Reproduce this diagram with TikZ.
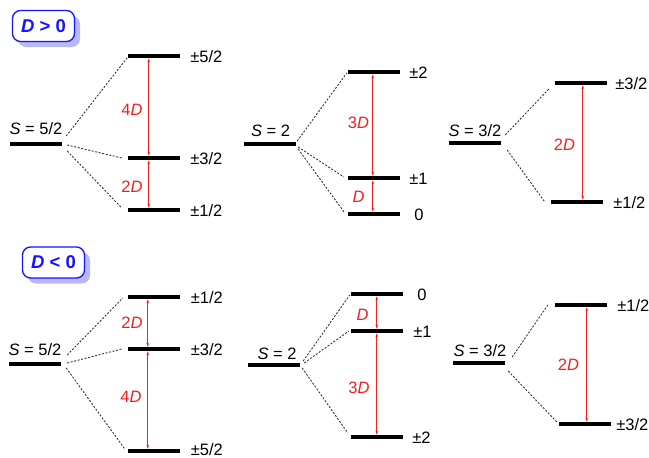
\documentclass[tikz,border=0pt]{standalone}
\usepackage{fontspec}
\setmainfont{Liberation Sans}
\usetikzlibrary{arrows.meta,calc,shadows}
\definecolor{shadowblue}{RGB}{184,184,242}
\definecolor{boxblue}{RGB}{20,20,255}
\definecolor{arrred}{RGB}{245,30,30}
\begin{document}
\begin{tikzpicture}[x=1pt,y=-1pt,
 bar/.style={fill=black, inner sep=0pt, minimum width=52pt, minimum height=3.3pt},
 lbl/.style={font=\fontsize{16.5}{19}\selectfont, inner sep=0pt, anchor=base west},
 slbl/.style={font=\fontsize{16.5}{19}\selectfont, inner sep=0pt, anchor=base},
 dlbl/.style={font=\fontsize{16.5}{19}\selectfont, inner sep=0pt, text=arrred},
 dl/.style={dash pattern=on 2pt off 1.6pt, line width=0.9pt, draw=black!80},
 darr/.style={draw=arrred, line width=0.75pt, {Stealth[length=4pt,width=2.8pt,fill=arrred]}-{Stealth[length=4pt,width=2.8pt,fill=arrred]}, shorten <=0.5pt, shorten >=0.5pt},
 dbox/.style={draw=boxblue, line width=1.3pt, fill=white, rounded corners=8pt, minimum width=62pt, minimum height=31pt, inner sep=0pt, font=\fontsize{18.5}{22}\selectfont\bfseries, text=boxblue, general shadow={fill=shadowblue, shadow xshift=5.5pt, shadow yshift=-5.5pt}}
]
\useasboundingbox (0,0) rectangle (649,458);

% ---------- sign boxes ----------
\node[dbox] (kpos) at (43.5,26) {\textit{D} > 0};
\node[dbox] (kneg) at (53.5,262.5) {\textit{D} < 0};

% ================= D > 0 =================
% Panel 1: S = 5/2
\node[bar] (s1) at (36,144) {};
\node[slbl] (s1l) at (36,134.5) {\textit{S} = 5/2};
\node[bar] (a1) at (154,56) {};
\node[bar] (b1) at (154,158) {};
\node[bar] (c1) at (154,210) {};
\node[lbl] (a1l) at ($(a1.east)+(10,6)$) {±5/2};
\node[lbl] (b1l) at ($(b1.east)+(10,6)$) {±3/2};
\node[lbl] (c1l) at ($(c1.east)+(10,6)$) {±1/2};
\draw[dl] ($(s1.east)+(4,-8)$) -- ($(a1.west)+(0,1)$);
\draw[dl] ($(s1.east)+(5,1)$) -- ($(b1.west)+(-6,0)$);
\draw[dl] ($(s1.east)+(5,7)$) -- ($(c1.west)+(-6,-2)$);
\draw[darr] ([xshift=21pt]a1.south west) -- ([xshift=21pt]b1.north west);
\draw[darr] ([xshift=21pt]b1.south west) -- ([xshift=21pt]c1.north west);
\node[dlbl] (d1a) at (132,110) {4\textit{D}};
\node[dlbl] (d1b) at (132,187) {2\textit{D}};

% Panel 2: S = 2
\node[bar] (s2) at (270,144) {};
\node[slbl] (s2l) at (270.5,136.7) {\textit{S} = 2};
\node[bar] (a2) at (374,72) {};
\node[bar] (b2) at (374,178) {};
\node[bar] (c2) at (374,214) {};
\node[lbl] (a2l) at ($(a2.east)+(9,6)$) {±2};
\node[lbl] (b2l) at ($(b2.east)+(9,6)$) {±1};
\node[lbl] (c2l) at ($(c2.east)+(14,6)$) {0};
\draw[dl] ($(s2.east)+(1,-3)$) -- ($(a2.west)+(-1,1)$);
\draw[dl] ($(s2.east)+(2,3)$) -- ($(b2.west)+(-4,-1)$);
\draw[dl] ($(s2.east)+(2,5)$) -- ($(c2.west)+(-3,-1)$);
\draw[darr] ([xshift=25pt]a2.south west) -- ([xshift=25pt]b2.north west);
\draw[darr] ([xshift=25pt]b2.south west) -- ([xshift=25pt]c2.north west);
\node[dlbl] (d2a) at (358.5,122.5) {3\textit{D}};
\node[dlbl] (d2b) at (358.5,196.5) {\textit{D}};

% Panel 3: S = 3/2
\node[bar] (s3) at (475,143) {};
\node[slbl] (s3l) at (475,136) {\textit{S} = 3/2};
\node[bar] (a3) at (581,83) {};
\node[bar] (b3) at (577,202) {};
\node[lbl] (a3l) at ($(a3.east)+(8,6)$) {±3/2};
\node[lbl] (b3l) at ($(b3.east)+(10,6)$) {±1/2};
\draw[dl] ($(s3.east)+(4,-8)$) -- ($(a3.west)+(-6,6)$);
\draw[dl] ($(s3.east)+(6,7)$) -- ($(b3.west)+(-6,0)$);
\draw[darr] ([xshift=28pt]a3.south west) -- ([xshift=28pt]a3.south west |- b3.north);
\node[dlbl] (d3a) at (564.5,144.5) {2\textit{D}};

% ================= D < 0 =================
% Panel 4: S = 5/2
\node[bar] (s4) at (35,364) {};
\node[slbl] (s4l) at (35,355) {\textit{S} = 5/2};
\node[bar] (a4) at (154,297) {};
\node[bar] (b4) at (154,349) {};
\node[bar] (c4) at (154,451) {};
\node[lbl] (a4l) at ($(a4.east)+(10.5,6)$) {±1/2};
\node[lbl] (b4l) at ($(b4.east)+(10.5,6)$) {±3/2};
\node[lbl] (c4l) at ($(c4.east)+(10.5,4)$) {±5/2};
\draw[dl] ($(s4.east)+(6,-9)$) -- ($(a4.west)+(-5,1)$);
\draw[dl] ($(s4.east)+(6,-1)$) -- ($(b4.west)+(-6,0)$);
\draw[dl] ($(s4.east)+(5,4)$) -- ($(c4.west)+(-3,-2)$);
\draw[darr] ([xshift=20pt]a4.south west) -- ([xshift=20pt]b4.north west);
\draw[darr] ([xshift=20pt]b4.south west) -- ([xshift=20pt]c4.north west);
\node[dlbl] (d4a) at (132,322.5) {2\textit{D}};
\node[dlbl] (d4b) at (131,397) {4\textit{D}};

% Panel 5: S = 2
\node[bar] (s5) at (274,365) {};
\node[slbl] (s5l) at (277,359) {\textit{S} = 2};
\node[bar] (a5) at (377,294) {};
\node[bar] (b5) at (377,331) {};
\node[bar] (c5) at (377,437) {};
\node[lbl] (a5l) at ($(a5.east)+(14,6)$) {0};
\node[lbl] (b5l) at ($(b5.east)+(10,6)$) {±1};
\node[lbl] (c5l) at ($(c5.east)+(9,6)$) {±2};
\draw[dl] ($(s5.east)+(3,-4)$) -- ($(a5.west)+(-1,1)$);
\draw[dl] ($(s5.east)+(4,-2)$) -- ($(b5.west)+(-2,0)$);
\draw[dl] ($(s5.east)+(2,3)$) -- ($(c5.west)+(-3,-4)$);
\draw[darr] ([xshift=26pt]a5.south west) -- ([xshift=26pt]b5.north west);
\draw[darr] ([xshift=26pt]b5.south west) -- ([xshift=26pt]c5.north west);
\node[dlbl] (d5a) at (362.5,314.5) {\textit{D}};
\node[dlbl] (d5b) at (359,387.5) {3\textit{D}};

% Panel 6: S = 3/2
\node[bar] (s6) at (479,363) {};
\node[slbl] (s6l) at (480,356) {\textit{S} = 3/2};
\node[bar] (a6) at (581,305) {};
\node[bar] (b6) at (585,424) {};
\node[lbl] (a6l) at ($(a6.east)+(10,6)$) {±1/2};
\node[lbl] (b6l) at ($(b6.east)+(5,6)$) {±3/2};
\draw[dl] ($(s6.east)+(7,-6)$) -- ($(a6.west)+(-7,0)$);
\draw[dl] ($(s6.east)+(3,8)$) -- ($(b6.west)+(-1,-1)$);
\draw[darr] ([xshift=32pt]a6.south west) -- ([xshift=32pt]a6.south west |- b6.north);
\node[dlbl] (d6a) at (568.5,365) {2\textit{D}};
\end{tikzpicture}
\end{document}
